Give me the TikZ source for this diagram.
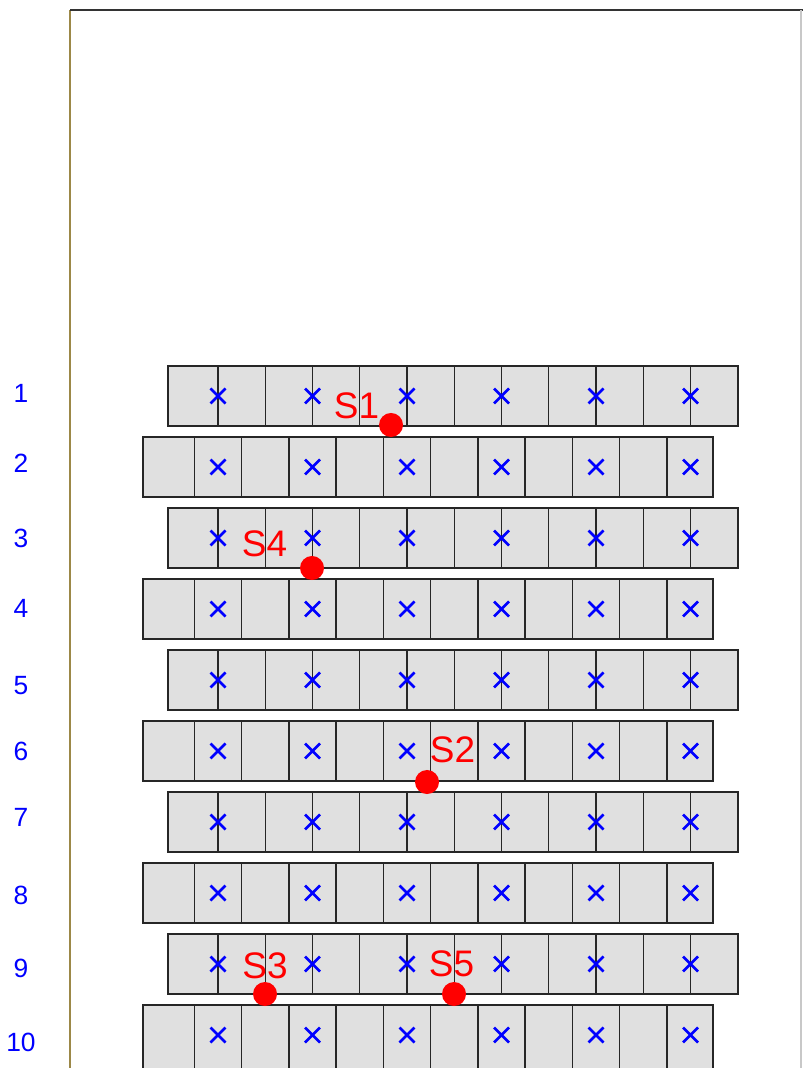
\documentclass[tikz,border=0pt]{standalone}
\usepackage{fontspec}
\setmainfont{Liberation Sans}
\definecolor{cellgray}{HTML}{E0E0E0}
\definecolor{edge}{HTML}{262626}
\definecolor{olive}{HTML}{9C8848}
\definecolor{topline}{HTML}{333333}
\definecolor{rim}{HTML}{C8C8C8}
\definecolor{markblue}{HTML}{0000FF}
\definecolor{seatred}{HTML}{FF0000}

\begin{document}
\begin{tikzpicture}[x=0.01cm, y=-0.01cm,
    cell/.style={fill=cellgray, draw=edge, line width=0.42pt},
    divider/.style={draw=edge, line width=0.35pt},
    cross/.style={markblue, line width=0.75pt},
    rownum/.style={font=\fontsize{7.5}{9}\selectfont, text=markblue, inner sep=0pt},
    seat/.style={circle, fill=seatred, minimum size=0.24cm, inner sep=0pt},
    tag/.style={font=\fontsize{10.5}{12}\selectfont, text=seatred, inner sep=0pt}]
  % fixed 803 x 1068 px canvas
  \path[use as bounding box] (0,0) rectangle (803,1068);
  \clip (0,0) rectangle (803,1068);

  % ================= frame =================
  \draw[olive, line width=0.4pt] (70,10) -- (70,1068);
  \draw[topline, line width=0.45pt] (70,10) -- (803,10);
  \draw[rim, line width=0.3pt] (801,10) -- (801,1068);

  % ================= rows of cells (last one runs off the page) =================
  \foreach \r in {1,...,10} {
    \pgfmathsetmacro{\yt}{366+71*(\r-1)}
    \pgfmathsetmacro{\hh}{\r==10 ? 80 : 60}
    \ifodd\r\relax
      \draw[cell] (168,\yt) rectangle (738,\yt+\hh);
      \foreach \k in {0,...,5} \draw[divider] (218+94.5*\k,\yt) -- ++(0,\hh);
      \foreach \k in {0,...,4} \draw[divider] (265.25+94.5*\k,\yt) -- ++(0,\hh);
    \else
      \draw[cell] (143,\yt) rectangle (713,\yt+\hh);
      \foreach \k in {0,...,5} \draw[divider] (194.4+94.5*\k,\yt) -- ++(0,\hh);
      \foreach \k in {0,...,4} \draw[divider] (241.6+94.5*\k,\yt) -- ++(0,\hh);
    \fi
    % blue markers
    \foreach \k in {0,...,5}
      \draw[cross] (218+94.5*\k,\yt+30) ++(-7.5,-7.5) -- ++(15,15) ++(-15,0) -- ++(15,-15);
  }

  % ================= row numbers =================
  \foreach \r/\ly in {1/393,2/463,3/538,4/608,5/686,6/751,7/817,8/895,9/968,10/1042}
    \node[rownum] (r\r) at (21,\ly) {\r};

  % ================= seats =================
  \node[seat] (s1) at (391,425) {};
  \node[seat] (s4) at (312,568) {};
  \node[seat] (s2) at (427,782) {};
  \node[seat] (s3) at (265,994) {};
  \node[seat] (s5) at (454,994) {};
  \node[tag] (t1) at (356.5,405.5) {S1};
  \node[tag] (t4) at (264.5,544) {S4};
  \node[tag] (t2) at (452.5,750) {S2};
  \node[tag] (t3) at (265,965.5) {S3};
  \node[tag] (t5) at (451.5,964) {S5};
\end{tikzpicture}
\end{document}
